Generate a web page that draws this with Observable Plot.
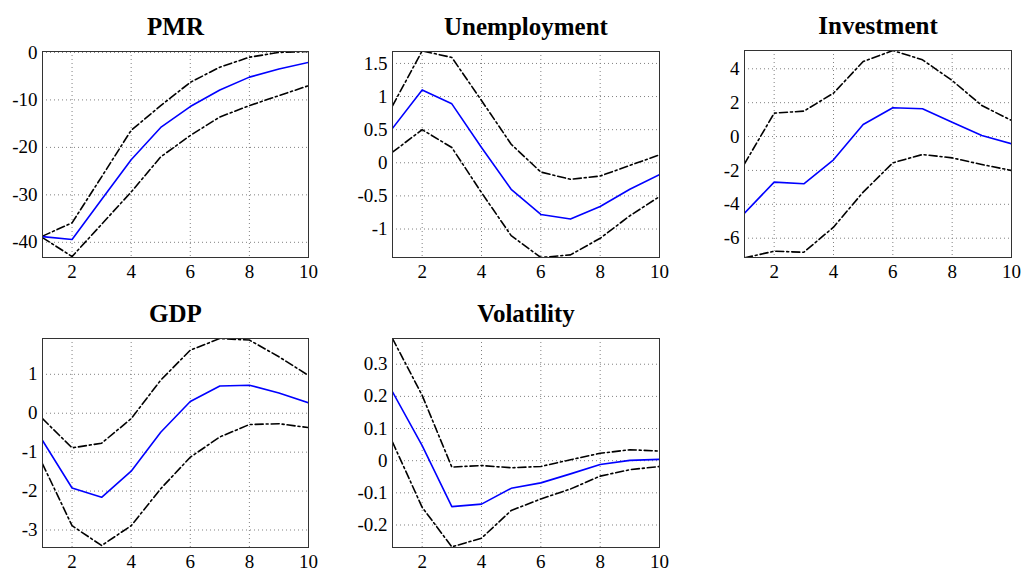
<!DOCTYPE html>
<html>
<head>
<meta charset="utf-8">
<script src="https://cdn.jsdelivr.net/npm/d3@7"></script>
<script src="https://cdn.jsdelivr.net/npm/@observablehq/plot@0.6"></script>
<style>
  html, body { margin: 0; padding: 0; background: #fff; }
  #fig { position: relative; width: 1023px; height: 571px; overflow: hidden; }
  #fig svg { position: absolute; left: 0; top: 0; font-family: 'Liberation Serif', 'Times New Roman', serif; }
  #fig svg text { font-family: 'Liberation Serif', 'Times New Roman', serif; }
  #fig svg g[aria-label$="tick label"] text, #fig svg g[aria-label$="tick label"] { font-size: 19px; fill: #000; }
</style>
</head>
<body>
<div id="fig"></div>
<script>
const horizon = [1, 2, 3, 4, 5, 6, 7, 8, 9, 10];
const xTicks = [2, 4, 6, 8, 10];

const titles = ["PMR", "Unemployment", "Investment", "GDP", "Volatility"];

const pmrMid   = [-38.8, -39.4, -31.0, -22.6, -15.8, -11.4, -7.9, -5.2, -3.5, -2.1];
const pmrUpper = [-38.7, -35.9, -26.2, -16.4, -11.2, -6.3, -3.1, -1.0, 0.0, 0.2];
const pmrLower = [-39.0, -43.0, -36.2, -29.4, -22.0, -17.5, -13.6, -11.2, -9.1, -7.0];
const pmrTicks = [-40, -30, -20, -10, 0];

const unempMid   = [0.52, 1.10, 0.89, 0.23, -0.40, -0.78, -0.85, -0.66, -0.40, -0.18];
const unempUpper = [0.86, 1.69, 1.59, 0.94, 0.28, -0.14, -0.25, -0.20, -0.04, 0.12];
const unempLower = [0.16, 0.50, 0.23, -0.45, -1.10, -1.43, -1.39, -1.14, -0.80, -0.51];
const unempTicks = [-1, -0.5, 0, 0.5, 1, 1.5];

const invMid   = [-4.52, -2.69, -2.79, -1.37, 0.71, 1.70, 1.64, 0.85, 0.06, -0.43];
const invUpper = [-1.61, 1.38, 1.50, 2.56, 4.43, 5.08, 4.53, 3.31, 1.83, 0.95];
const invLower = [-7.16, -6.77, -6.83, -5.35, -3.28, -1.55, -1.06, -1.26, -1.65, -2.00];
const invTicks = [-6, -4, -2, 0, 2, 4];

const gdpMid   = [-0.70, -1.92, -2.16, -1.49, -0.49, 0.30, 0.70, 0.72, 0.52, 0.27];
const gdpUpper = [-0.14, -0.89, -0.77, -0.14, 0.85, 1.62, 1.92, 1.88, 1.45, 0.97];
const gdpLower = [-1.30, -2.89, -3.40, -2.89, -1.94, -1.13, -0.61, -0.29, -0.27, -0.37];
const gdpTicks = [-3, -2, -1, 0, 1];

const volMid   = [0.214, 0.047, -0.143, -0.135, -0.086, -0.069, -0.041, -0.012, 0.001, 0.004];
const volUpper = [0.380, 0.203, -0.020, -0.015, -0.022, -0.018, 0.003, 0.023, 0.034, 0.030];
const volLower = [0.058, -0.145, -0.268, -0.241, -0.155, -0.119, -0.088, -0.048, -0.028, -0.018];
const volTicks = [-0.2, -0.1, 0, 0.1, 0.2, 0.3];

const W = 1023, H = 571;
const panels = [
  {title: titles[0], mid: pmrMid, upper: pmrUpper, lower: pmrLower, ticks: pmrTicks, domain: [-43.2, 0.2], left: 42, right: 308, top: 51, bottom: 257},
  {title: titles[1], mid: unempMid, upper: unempUpper, lower: unempLower, ticks: unempTicks, domain: [-1.43, 1.68], left: 392, right: 659, top: 51, bottom: 257},
  {title: titles[2], mid: invMid, upper: invUpper, lower: invLower, ticks: invTicks, domain: [-7.14, 5.08], left: 744, right: 1011, top: 50, bottom: 257},
  {title: titles[3], mid: gdpMid, upper: gdpUpper, lower: gdpLower, ticks: gdpTicks, domain: [-3.45, 1.92], left: 42, right: 308, top: 338, bottom: 547},
  {title: titles[4], mid: volMid, upper: volUpper, lower: volLower, ticks: volTicks, domain: [-0.27, 0.38], left: 392, right: 659, top: 338, bottom: 547}
];

const fig = document.getElementById("fig");
const font = "Liberation Serif";

for (const p of panels) {
  const chart = Plot.plot({
    width: W,
    height: H,
    marginLeft: p.left,
    marginRight: W - p.right,
    marginTop: p.top,
    marginBottom: H - p.bottom,
    style: "font-family: 'Liberation Serif', serif; font-size: 19px; color: #000; background: transparent; overflow: visible;",
    x: {domain: [1, 10]},
    y: {domain: p.domain},
    marks: [
      Plot.gridX(xTicks, {stroke: "#808080", strokeOpacity: 1, strokeDasharray: "1,3"}),
      Plot.gridY(p.ticks, {stroke: "#808080", strokeOpacity: 1, strokeDasharray: "1,3"}),
      Plot.lineY(p.upper, {x: horizon, stroke: "#000", strokeWidth: 1.6, strokeDasharray: "8,3,2,3", clip: true}),
      Plot.lineY(p.lower, {x: horizon, stroke: "#000", strokeWidth: 1.6, strokeDasharray: "8,3,2,3", clip: true}),
      Plot.lineY(p.mid, {x: horizon, stroke: "#0000ff", strokeWidth: 1.6, clip: true}),
      Plot.frame({stroke: "#333", strokeWidth: 1}),
      Plot.axisX({ticks: xTicks, tickSize: 0, tickPadding: 7, tickFormat: d => String(d), label: null, fontSize: 19, fontFamily: font, fill: "#000"}),
      Plot.axisY({ticks: p.ticks, tickSize: 0, tickPadding: 5, tickFormat: d => String(d), label: null, fontSize: 19, fontFamily: font, fill: "#000"}),
      Plot.text([p.title], {frameAnchor: "top", dy: -17, lineAnchor: "bottom", fontSize: 25, fontWeight: "bold", fontFamily: font, fill: "#000"})
    ]
  });
  fig.appendChild(chart);
}
</script>
</body>
</html>
